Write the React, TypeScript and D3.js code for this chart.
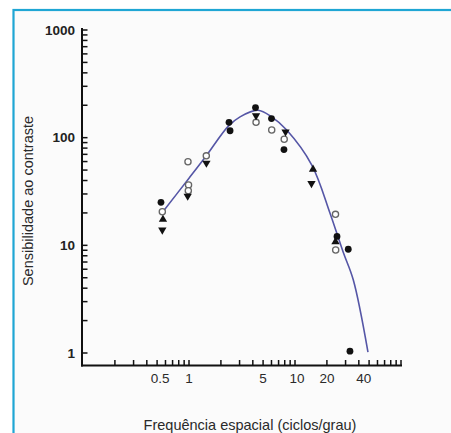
import React from 'react';
import * as d3 from 'd3';

const W = 451;
const H = 433;

// Data: [spatial frequency (cycles/deg), contrast sensitivity]
const filledCircles: [number, number][] = [
  [0.544, 25.1], [2.385, 138.7], [2.44, 115.9], [4.24, 190.3], [6.0, 150.4],
  [7.87, 77.5], [24.9, 12.1], [31.8, 9.2], [33.0, 1.04],
];
const openCircles: [number, number][] = [
  [0.56, 20.5], [0.978, 59.8], [0.99, 36.3], [0.985, 32.1], [1.456, 67.8],
  [4.29, 138.7], [6.03, 117.7], [7.91, 96.7], [24.1, 19.4], [24.2, 9.04],
];
const upTriangles: [number, number][] = [
  [0.568, 17.4], [14.8, 50.8], [24.1, 10.8],
];
const downTriangles: [number, number][] = [
  [0.56, 13.9], [0.972, 28.7], [1.46, 58.1], [4.29, 160.4], [8.14, 113.4], [14.3, 37.6],
];
const fitCurve: [number, number][] = [
  [0.56, 20.2], [1.0, 42], [1.45, 67.5], [2.35, 128], [3.03, 156], [4.48, 180],
  [6.03, 156], [8.35, 117.7], [14.4, 55.7], [21.4, 19.9], [28.4, 8.7], [35.5, 4.76], [48.8, 1.02],
];

const xTickLabels = [0.5, 1, 5, 10, 20, 40];
const yTickLabels = [1, 10, 100, 1000];
const xTitle = 'Frequência espacial (ciclos/grau)';
const yTitle = 'Sensibilidade ao contraste';

function minorTicks(lo: number, hi: number): number[] {
  const out: number[] = [];
  for (let d = lo; d < hi; d *= 10) {
    for (let k = 1; k <= 9; k++) out.push(d * k);
  }
  out.push(hi);
  return out;
}

export default function App() {
  const x = d3.scaleLog().domain([0.1, 100]).range([83, 401]);
  const y = d3.scaleLog().domain([1, 1000]).range([353, 30]);
  const axisY0 = 365.5;
  const axisX0 = 82;

  const xTicks = minorTicks(0.1, 100).filter((v) => v > 0.1);
  const yTicks = minorTicks(1, 1000);

  const line = d3
    .line<[number, number]>()
    .x((d) => x(d[0]))
    .y((d) => y(d[1]))
    .curve(d3.curveCatmullRom.alpha(0.5));

  const tri = d3.symbol().type(d3.symbolTriangle).size(30)() as string;
  const font = '"Liberation Sans", Arial, Helvetica, sans-serif';

  return (
    <svg
      width={W}
      height={H}
      style={{ position: 'absolute', left: 0, top: 0, background: '#fff' }}
    >
      <rect x={13.5} y={10} width={W} height={H} fill="#fbfbfb" stroke="#1fa6d4" strokeWidth={2.2} />

      {/* axes */}
      <line x1={axisX0} x2={axisX0} y1={28} y2={axisY0 + 1} stroke="#111" strokeWidth={2} />
      <line x1={axisX0 - 1} x2={x(100) + 1} y1={axisY0} y2={axisY0} stroke="#111" strokeWidth={2} />

      {yTicks.map((v, i) => (
        <line key={'yt' + i} x1={axisX0} x2={axisX0 + 5.5} y1={y(v)} y2={y(v)} stroke="#111" strokeWidth={1.5} />
      ))}
      {xTicks.map((v, i) => (
        <line key={'xt' + i} x1={x(v)} x2={x(v)} y1={axisY0} y2={axisY0 - 5.5} stroke="#111" strokeWidth={1.5} />
      ))}

      {yTickLabels.map((v) => (
        <text
          key={'yl' + v}
          x={75}
          y={y(v)}
          dy="0.35em"
          textAnchor="end"
          fontFamily={font}
          fontSize={13.5}
          fontWeight="bold"
          fill="#222"
        >
          {v}
        </text>
      ))}
      {xTickLabels.map((v) => (
        <text
          key={'xl' + v}
          x={x(v)}
          dx={v === 0.5 ? 3 : v === 40 ? 5 : v === 10 ? 2 : 0}
          y={383}
          textAnchor="middle"
          fontFamily={font}
          fontSize={13.5}
          fill="#2a2a2a"
        >
          {v}
        </text>
      ))}

      <text
        transform={`translate(33,201) rotate(-90)`}
        textAnchor="middle"
        fontFamily={font}
        fontSize={14.5}
        fill="#2a2a2a"
      >
        {yTitle}
      </text>
      <text x={250} y={430} textAnchor="middle" fontFamily={font} fontSize={14.5} fill="#2a2a2a">
        {xTitle}
      </text>

      {/* fitted curve */}
      <path d={line(fitCurve) || ''} fill="none" stroke="#5556a6" strokeWidth={1.6} />

      {/* data */}
      {openCircles.map((d, i) => (
        <circle key={'oc' + i} cx={x(d[0])} cy={y(d[1])} r={3.1} fill="#fff" stroke="#666" strokeWidth={1.3} />
      ))}
      {filledCircles.map((d, i) => (
        <circle key={'fc' + i} cx={x(d[0])} cy={y(d[1])} r={3.4} fill="#111" />
      ))}
      {upTriangles.map((d, i) => (
        <path key={'ut' + i} d={tri} transform={`translate(${x(d[0])},${y(d[1])})`} fill="#111" />
      ))}
      {downTriangles.map((d, i) => (
        <path key={'dt' + i} d={tri} transform={`translate(${x(d[0])},${y(d[1])}) rotate(180)`} fill="#111" />
      ))}
    </svg>
  );
}
